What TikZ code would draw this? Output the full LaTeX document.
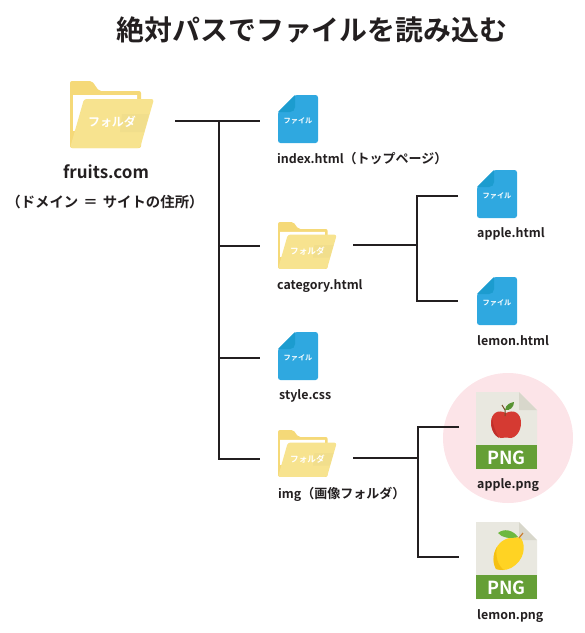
\documentclass[tikz,border=0pt]{standalone}
\usepackage{xcolor}
\usepackage{fontspec}
\newfontfamily\cjk{Noto Sans CJK JP Bold}
\newcommand{\kanapart}[1]{{\fontsize{13}{15}\selectfont #1}}
\definecolor{folderback}{HTML}{F5D978}
\definecolor{folderfront}{HTML}{F7E38F}
\definecolor{folderband}{HTML}{F1DE8C}
\definecolor{fileblue}{HTML}{2FA8E0}
\definecolor{filefold}{HTML}{1C9CCF}
\definecolor{paper}{HTML}{E9E8E0}
\definecolor{paperfold}{HTML}{D8D7CB}
\definecolor{pnggreen}{HTML}{659F36}
\definecolor{halo}{HTML}{FCE4E8}
\definecolor{applered}{HTML}{D53A32}
\definecolor{appledark}{HTML}{BF2F2B}
\definecolor{lemonyellow}{HTML}{FFD323}
\definecolor{lemondark}{HTML}{F5C013}
\definecolor{leafgreen}{HTML}{6DB83F}
\definecolor{linecol}{HTML}{231F20}
\tikzset{
  treeline/.style={draw=linecol, line width=2pt},
  caption/.style={font=\cjk\fontsize{12.4}{15}\selectfont, text=linecol, inner sep=0pt},
  iconlabel/.style={font=\cjk\fontsize{#1}{#1}\selectfont, text=white, inner sep=0pt},
  pics/folder/.style={code={
    % back with tab, white sheet, then the front flap
    \fill[folderback, rounded corners=2pt] (0,67) -- (0,0) -- (22,0) -- (29,10) -- (71,10) -- (71,67) -- cycle;
    \fill[white] (3,14) -- (67,14) -- (67,40) -- (3,50) -- cycle;
    \fill[folderfront, rounded corners=2.5pt] (0,67) -- (14,18) -- (84,18) -- (70,67) -- cycle;
    \fill[folderband] (52,33) -- (79,33) -- (74,51) -- (50,51) -- cycle;
    \node[iconlabel=#1] (-label) at (42,41) {フォルダ};
  }},
  pics/htmlfile/.style={code={
    \fill[fileblue, rounded corners=2.5pt] (0,48) -- (0,17) -- (17,0) -- (40,0) -- (40,48) -- cycle;
    \fill[filefold] (0,17) -- (17,0) -- (17,12) .. controls (17,15) and (15,17) .. (12,17) -- cycle;
    \node[iconlabel=7.2] (-label) at (20,26) {ファイル};
  }},
  pics/pngfile/.style={code={
    \fill[paper] (0,0) -- (43,0) -- (61,18) -- (61,77) -- (0,77) -- cycle;
    \fill[paperfold] (43,0) -- (61,18) -- (43,18) -- cycle;
    \fill[pnggreen] (0,53) rectangle (61,77);
    \node[iconlabel=18] (-label) at (30.5,65.5) {PNG};
  }}
}
\begin{document}
\begin{tikzpicture}[x=1pt,y=-1pt]
  \useasboundingbox (0,0) rectangle (585,633);
  % Title
  \node[font=\cjk\fontsize{27.9}{30}\selectfont, text=linecol, inner sep=0pt] (title) at (312,30) {絶対パスでファイルを読み込む};
  % Highlight behind apple.png
  \fill[halo] (508,438) circle (65);
  % Root folder
  \pic (root) at (70,81) {folder=12};
  \node[caption, font=\cjk\fontsize{17}{20}\selectfont] (rootname) at (106,172) {fruits.com};
  \node[caption, font=\cjk\fontsize{14.4}{15}\selectfont] (rootnote) at (105,202) {（ドメイン\hspace{5pt}＝\hspace{5pt}サイトの住所）};
  % Second column
  \pic (index) at (278,95) {htmlfile};
  \node[caption, anchor=west] (indexname) at (277,159) {index.html\kanapart{（トップページ）}};
  \pic[scale=0.7] (category) at (278,222) {folder=8.6};
  \node[caption, anchor=west] (categoryname) at (277,286) {category.html};
  \pic (style) at (278,332) {htmlfile};
  \node[caption, anchor=west] (stylename) at (279,396) {style.css};
  \pic[scale=0.7] (img) at (278,430) {folder=8.6};
  \node[caption, anchor=west] (imgname) at (278,494) {img\kanapart{（画像フォルダ）}};
  % Third column
  \pic (applehtml) at (477,170) {htmlfile};
  \node[caption, anchor=west] (applehtmlname) at (477,234) {apple.html};
  \pic (lemonhtml) at (477,277) {htmlfile};
  \node[caption, anchor=west] (lemonhtmlname) at (477,341) {lemon.html};
  \pic (applepng) at (476,392) {pngfile};
  \node[caption, anchor=west] (applepngname) at (477,485) {apple.png};
  \pic (lemonpng) at (476,522) {pngfile};
  \node[caption, anchor=west] (lemonpngname) at (477,616) {lemon.png};
  % Apple
  \fill[applered] (506,413) .. controls (498,409) and (491,413) .. (491,423)
    .. controls (491,432) and (497,438) .. (501,438) .. controls (503,438) and (504,437.5) .. (506,437.5)
    .. controls (508,437.5) and (509,438) .. (511,438) .. controls (515,438) and (521,432) .. (521,423)
    .. controls (521,413) and (514,409) .. (506,413) -- cycle;
  \fill[appledark] (492,418) .. controls (490,427) and (494,436) .. (499,438) .. controls (495,431) and (493,425) .. (492,418) -- cycle;
  \draw[brown!60!black, line width=1pt] (505,416) -- (505,410) -- (502,405);
  \fill[leafgreen!80!black] (505,410) .. controls (506,404) and (510,403) .. (514,402) .. controls (514,407) and (510,411) .. (505,410) -- cycle;
  % Lemon
  \fill[lemonyellow] (521,538) .. controls (526,546) and (525,560) .. (511,568)
    .. controls (505,571) and (500,570) .. (496,569) .. controls (492,562) and (493,550) .. (500,543)
    .. controls (505,538) and (514,536) .. (521,538) -- cycle;
  \fill[lemondark] (497,547) .. controls (492,555) and (493,564) .. (496,569) .. controls (499,570) and (502,570) .. (504,570) .. controls (498,566) and (495,556) .. (497,547) -- cycle;
  \draw[brown!80!orange, line width=1.2pt] (519,538) -- (523,533);
  \fill[leafgreen] (498,533) .. controls (504,528) and (513,530) .. (518,537) .. controls (510,539) and (502,538) .. (498,533) -- cycle;
  % Tree lines
  \coordinate (rootout) at (175,121);
  \coordinate (trunk) at (219,121);
  \coordinate (indexin) at (260,121);
  \coordinate (categoryin) at (260,246);
  \coordinate (stylein) at (260,358);
  \coordinate (imgin) at (260,459);
  \draw[treeline] (rootout) -- (indexin);
  \draw[treeline] (trunk) |- (imgin);
  \draw[treeline] (trunk |- categoryin) -- (categoryin);
  \draw[treeline] (trunk |- stylein) -- (stylein);
  \coordinate (categoryout) at (353,245);
  \coordinate (subtrunk) at (417,245);
  \coordinate (applehtmlin) at (458,196);
  \coordinate (lemonhtmlin) at (458,301);
  \draw[treeline] (categoryout) -- (subtrunk);
  \draw[treeline] (applehtmlin) -| (subtrunk) |- (lemonhtmlin);
  \coordinate (imgout) at (353,458);
  \coordinate (imgtrunk) at (418,458);
  \coordinate (applepngin) at (459,427);
  \coordinate (lemonpngin) at (459,557);
  \draw[treeline] (imgout) -- (imgtrunk);
  \draw[treeline] (applepngin) -| (imgtrunk) |- (lemonpngin);
\end{tikzpicture}
\end{document}
